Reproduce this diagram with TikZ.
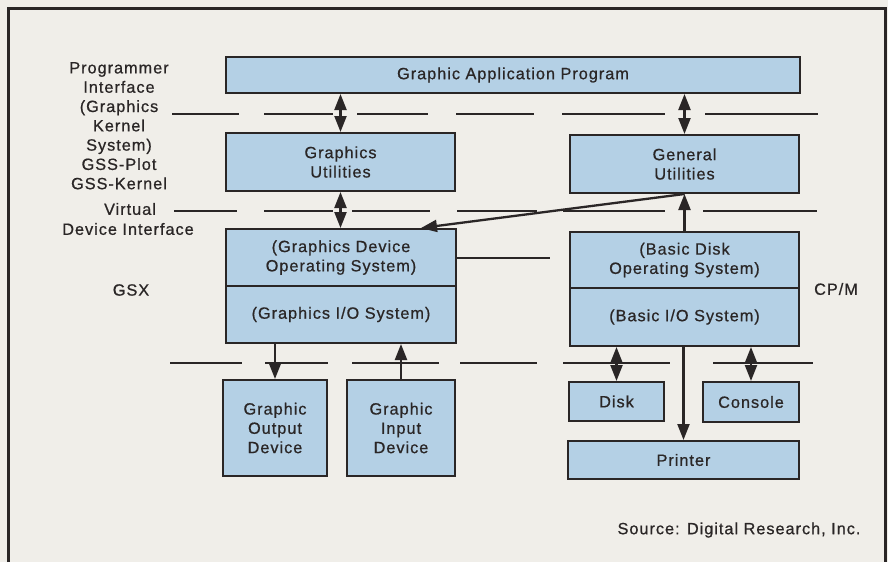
\documentclass[tikz,border=0pt]{standalone}
\usepackage{fontspec}
\setmainfont{Liberation Sans}[LetterSpace=6,FakeBold=0.7]
\usetikzlibrary{arrows.meta,calc}
\definecolor{bg}{RGB}{240,238,233}
\definecolor{boxfill}{RGB}{180,208,229}
\definecolor{ink}{RGB}{42,38,38}
\begin{document}
\begin{tikzpicture}[x=1pt,y=-1pt,
  every node/.style={font=\fontsize{16.3}{19.3}\selectfont, text=ink},
  box/.style={draw=ink, line width=2pt, fill=boxfill, inner sep=0pt, align=center},
  sep/.style={draw=ink, line width=2pt},
  arr/.style={draw=ink, line width=2.3pt, -{Triangle[length=16pt,width=12pt]}},
  dbl/.style={draw=ink, line width=2.3pt, {Triangle[length=16pt,width=12pt]}-{Triangle[length=16pt,width=12pt]}},
  lbl/.style={align=center, inner sep=0pt}]
\useasboundingbox (0,0) rectangle (888,562);
\fill[bg] (0,0) rectangle (888,562);
% frame
\draw[ink, line width=3pt] (8,562) -- (8,8) -- (885,8) -- (885,562);

% separator lines
\foreach \a/\b in {172/239,264/333,357/428,456/534,562/665,705/818}
  \draw[sep] (\a,114) -- (\b,114);
\foreach \a/\b in {174/237,264/333,352/430,457/537,563/665,703/817}
  \draw[sep] (\a,211) -- (\b,211);
\foreach \a/\b in {170/242,265/328,352/439,460/537,563/670,713/813}
  \draw[sep] (\a,363) -- (\b,363);

% boxes
\node[box, minimum width=574pt, minimum height=36pt] (app) at (513,75) {Graphic Application Program};
\node[box, minimum width=229pt, minimum height=58pt] (gutil) at (340.5,162) {Graphics\\Utilities};
\node[box, minimum width=229pt, minimum height=58pt] (genutil) at (684.5,164) {General\\Utilities};
\node[box, minimum width=230pt, minimum height=57pt] (gdos) at (341,257.5) {(Graphics Device\\Operating System)};
\node[box, minimum width=230pt, minimum height=57pt] (gios) at (341,314.5) {(Graphics I/O System)};
\node[box, minimum width=229pt, minimum height=56pt] (bdos) at (684.5,260) {(Basic Disk\\Operating System)};
\node[box, minimum width=229pt, minimum height=58pt] (bios) at (684.5,317) {(Basic I/O System)};
\node[box, minimum width=104pt, minimum height=96pt] (gout) at (275,428) {Graphic\\Output\\Device};
\node[box, minimum width=108pt, minimum height=96pt] (ginp) at (401,428) {Graphic\\Input\\Device};
\node[box, minimum width=95pt, minimum height=39pt] (disk) at (616.5,401.5) {Disk};
\node[box, minimum width=96pt, minimum height=40pt] (console) at (751,402) {Console};
\node[box, minimum width=231pt, minimum height=38pt] (printer) at (683.5,460) {Printer};

% connectors
\draw[dbl] (app.south -| gutil.north) -- (gutil.north);
\draw[dbl] (app.south -| genutil.north) -- (genutil.north);
\draw[dbl] (gutil.south) -- (gdos.north -| gutil.south);
\draw[arr] (bdos.north) -- (genutil.south -| bdos.north);
\draw[arr] (genutil.south) -- ([xshift=-36pt]gdos.north east);
\coordinate (gdosend) at (550,257.5);
\draw[ink, line width=2pt] (gdos.east) -- (gdosend);
\draw[arr] (gios.south -| gout.north) -- (gout.north);
\draw[arr] (ginp.north) -- (gios.south -| ginp.north);
\draw[dbl] (bios.south -| disk.north) -- (disk.north);
\draw[dbl] (bios.south -| console.north) -- (console.north);
\draw[arr] (bios.south -| printer.north) -- (printer.north);

% labels
\node[lbl, anchor=north] (pi) at (119,62) {Programmer\\Interface\\(Graphics\\Kernel\\System)\\GSS-Plot\\GSS-Kernel};
\node[lbl] (virt) at (130,209) {Virtual};
\node[lbl] (vdi) at (128,229) {Device Interface};
\node[lbl] (gsx) at (131,290) {GSX};
\node[lbl] (cpm) at (836,289) {CP/M};
\node[lbl] (src) at (739,530) {Source: Digital Research, Inc.};
\end{tikzpicture}
\end{document}
